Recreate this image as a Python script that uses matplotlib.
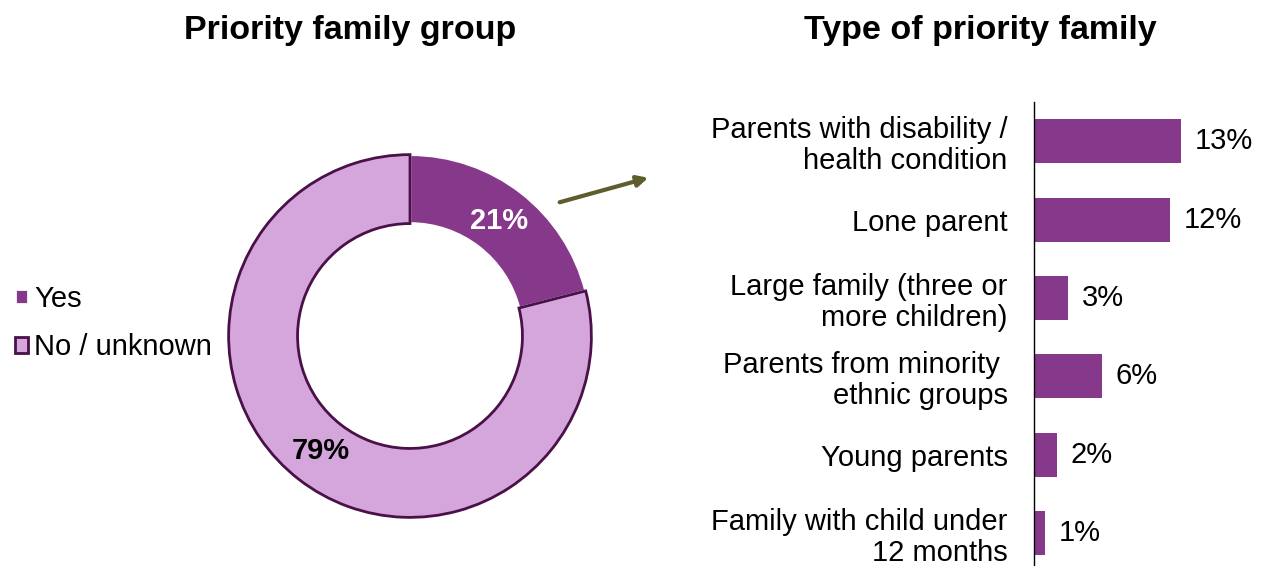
import matplotlib.pyplot as plt
from matplotlib.patches import FancyArrowPatch

plt.rcParams['font.family'] = ['Liberation Sans', 'DejaVu Sans']

# --- Data ---
group_labels = ['Yes', 'No / unknown']
group_values = [21, 79]

type_labels = ['Parents with disability /\nhealth condition',
               'Lone parent',
               'Large family (three or\nmore children)',
               'Parents from minority \nethnic groups',
               'Young parents',
               'Family with child under\n12 months']
type_values = [13, 12, 3, 6, 2, 1]

DARK = '#86388A'
LIGHT = '#D5A6DC'
EDGE = '#4A1048'

W, H = 1264, 566
fig = plt.figure(figsize=(W / 100, H / 100), dpi=100)

# --- Donut ---
ax1 = fig.add_axes([(410 - 185) / W, (H - 336 - 185) / H, 370 / W, 370 / H])
wedges, texts, autotexts = ax1.pie(
    group_values, startangle=90, counterclock=False, radius=1,
    colors=[DARK, LIGHT], autopct='%d%%', pctdistance=0.8,
    wedgeprops=dict(width=0.38, linewidth=2))
wedges[0].set_edgecolor('white')
wedges[1].set_edgecolor(EDGE)
for t, c in zip(autotexts, ['white', 'black']):
    t.set_color(c)
    t.set_fontsize(21)
    t.set_fontweight('bold')
ax1.set_xlim(-1.02, 1.02)
ax1.set_ylim(-1.02, 1.02)
ax1.set_aspect('equal')

fig.legend(wedges, group_labels, loc='center left',
           bbox_to_anchor=(15 / W, 1 - 323 / H), frameon=False,
           fontsize=21, handlelength=0.45, handleheight=0.45,
           handletextpad=0.2, labelspacing=0.7,
           borderaxespad=0, borderpad=0)

fig.text(350 / W, 1 - 30 / H, 'Priority family group', ha='center',
         va='center', fontsize=24.5, fontweight='bold')

# --- Arrow between charts ---
arrow = FancyArrowPatch((557 / W, 1 - 203 / H), (651 / W, 1 - 177 / H),
                        transform=fig.transFigure, arrowstyle='-|>',
                        mutation_scale=16, color='#5E5E2C', linewidth=3)
fig.add_artist(arrow)

# --- Bars ---
ax2 = fig.add_axes([1034 / W, 0, 170 / W, 464 / H])
pos = list(range(len(type_values)))
ax2.barh(pos, type_values, height=0.56, color=DARK)
ax2.set_ylim(5.42, -0.5)
ax2.set_xlim(0, 15)
ax2.set_yticks(pos)
ax2.set_yticklabels(type_labels, fontsize=21, ha='right', linespacing=1.12)
ax2.tick_params(axis='y', length=0, pad=19)
ax2.set_xticks([])
for side in ['top', 'right', 'bottom']:
    ax2.spines[side].set_visible(False)
ax2.spines['left'].set_color('black')
ax2.spines['left'].set_linewidth(1)
for p, v in zip(pos, type_values):
    ax2.annotate(f'{v}%', (v, p), xytext=(10, 0), textcoords='offset points',
                 va='center', ha='left', fontsize=21)

fig.text(980 / W, 1 - 30 / H, 'Type of priority family', ha='center',
         va='center', fontsize=24.5, fontweight='bold')

fig.savefig('out.png', dpi=100)
